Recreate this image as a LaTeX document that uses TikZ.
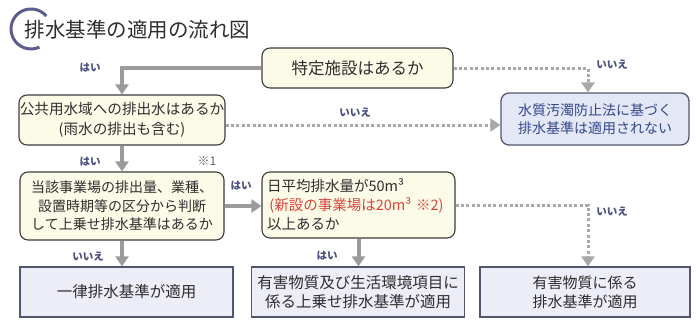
\documentclass[tikz,border=0pt]{standalone}
\usepackage{fontspec}
\setmainfont{Noto Sans CJK JP}
\usepackage{tikz}
\usetikzlibrary{arrows.meta}
\definecolor{bCream}{HTML}{FCFBE8}
\definecolor{bEdge}{HTML}{3C3C3C}
\definecolor{bText}{HTML}{2E2E2E}
\definecolor{rFill}{HTML}{EDEDF7}
\definecolor{rEdge}{HTML}{52576E}
\definecolor{naFill}{HTML}{E3E7F6}
\definecolor{naText}{HTML}{34498A}
\definecolor{hRed}{HTML}{D8453A}
\definecolor{lBlue}{HTML}{4B4F7E}
\definecolor{aGray}{HTML}{9B9B9B}
\definecolor{dGray}{HTML}{A8A8A8}
\definecolor{arcBlue}{HTML}{5C5C8E}
\tikzset{ask/.style={draw=bEdge, fill=bCream, rounded corners=8pt,
  line width=1.1pt, text=bText, inner sep=0pt, align=center}}
\tikzset{res/.style={draw=rEdge, fill=rFill, line width=1.3pt,
  text=bText, inner sep=0pt, align=center}}
\tikzset{nabox/.style={res, rounded corners=8pt, fill=naFill, text=naText}}
\tikzset{ar/.style={draw, line width=4pt, aGray, -{Triangle[width=13pt,length=10pt]}}}
\tikzset{dt/.style={draw, line width=3pt, dGray, dash pattern=on 3pt off 2.4pt,
  -{Triangle[width=13pt,length=10pt]}}}
\tikzset{lb/.style={text=lBlue, font=\fontsize{10.5}{12}\selectfont\bfseries}}
\begin{document}
\begin{tikzpicture}[x=1pt,y=-1pt]
        \tikzstyle{every node}=[font=\fontsize{14}{18.5}\selectfont]
        \useasboundingbox (0,0) rectangle (696,327);
        %% title
        \draw [arcBlue, line width=3pt] (46.3,16.1) arc[start angle=40, end angle=295, radius=20pt];
        \node (title) at (21,30) [anchor=west, text=bText, font=\fontsize{20.5}{24}\selectfont] {排水基準の適用の流れ図};
        %% questions
        \node (s1) at (357.5,68) [ask, minimum width=191pt, minimum height=40pt, font=\fontsize{16.5}{19}\selectfont] {特定施設はあるか};
        \node (s2) at (122,120) [ask, minimum width=206pt, minimum height=50pt, font=\fontsize{14.6}{20}\selectfont] {公共用水域への排出水はあるか\\(雨水の排出も含む)};
        \node (s3) at (122,206) [ask, minimum width=204pt, minimum height=68pt] {当該事業場の排出量、業種、\\設置時期等の区分から判断\\して上乗せ排水基準はあるか};
        \node (s4) at (358.5,205) [ask, minimum width=193pt, minimum height=66pt, align=left, text width=183pt, font=\fontsize{14.5}{19}\selectfont] {日平均排水量が50m³\\{\color{hRed}\,(新設の事業場は20m³ ※2)}\\以上あるか};
        %% results
        \node (na) at (595,119) [nabox, minimum width=188pt, minimum height=52pt] {水質汚濁防止法に基づく\\排水基準は適用されない};
        \node (r1) at (126.5,292) [res, minimum width=213pt, minimum height=50pt, font=\fontsize{15.5}{19}\selectfont] {一律排水基準が適用};
        \node (r2) at (358,292) [res, minimum width=213pt, minimum height=50pt, font=\fontsize{15.5}{19}\selectfont] {有害物質及び生活環境項目に\\係る上乗せ排水基準が適用};
        \node (r3) at (585,292) [res, minimum width=210pt, minimum height=50pt, font=\fontsize{15}{19}\selectfont] {有害物質に係る\\排水基準が適用};
        %% connectors
        \draw [ar] (s1.west) -| (s2.north);
        \draw [dt] (s1.east) -| ([xshift=-7pt]na.north);
        \draw [dt] ([yshift=-5pt]s2.east) -- ([yshift=-5pt]s2.east -| na.west);
        \draw [ar] (s2.south) -- (s3.north);
        \draw [ar] (s3.east) -- (s3.east -| s4.west);
        \draw [dt] (s4.east) -| ([xshift=3pt]r3.north);
        \draw [ar] (s3.south) -- (s3.south |- r1.north);
        \draw [ar] (s4.south) -- (s4.south |- r2.north);
        %% labels
        \node (y1) at (90,68) [lb] {はい};
        \node (n1) at (612,65) [lb] {いいえ};
        \node (n2) at (355,113) [lb] {いいえ};
        \node (y2) at (90,162) [lb] {はい};
        \node (k1) at (207,161) [text=bText!75, font=\fontsize{12}{13}\selectfont] {※1};
        \node (y3) at (241,186) [lb] {はい};
        \node (n3) at (612,212) [lb] {いいえ};
        \node (n4) at (88,257) [lb] {いいえ};
        \node (y4) at (327,256) [lb] {はい};
    \end{tikzpicture}
\end{document}
